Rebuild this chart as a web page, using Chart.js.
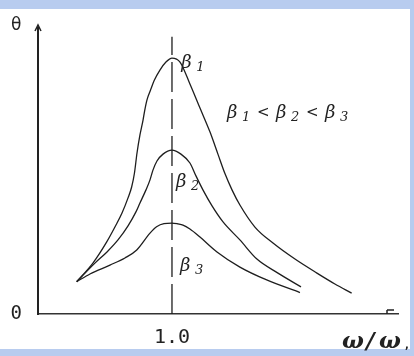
<!DOCTYPE html>
<html>
<head>
<meta charset="utf-8">
<script src="https://cdn.jsdelivr.net/npm/chart.js@4/dist/chart.umd.min.js"></script>
<style>
  html, body { margin: 0; padding: 0; background: #fff; }
  #wrap { width: 414px; height: 356px; }
</style>
</head>
<body>
<div id="wrap"><canvas id="c" width="414" height="356"></canvas></div>
<script>
// frequency ratio (x) and amplitude (y)
const beta1X = [0.289, 0.410, 0.513, 0.582, 0.627, 0.672, 0.699, 0.720, 0.739, 0.761, 0.784, 0.797, 0.813, 0.840, 0.869, 0.910, 0.955, 1.0, 1.060, 1.134, 1.209, 1.284, 1.343, 1.396, 1.448, 1.507, 1.619, 1.754, 1.918, 2.082, 2.216, 2.341]
const beta1Y = [11.3, 17.8, 25.2, 31.1, 35.3, 40.6, 44.4, 49.3, 56.3, 62.6, 67.8, 71.3, 74.8, 78.3, 81.8, 85.3, 88.1, 89.5, 88.1, 80.4, 72.0, 63.6, 55.9, 49.0, 43.4, 38.1, 30.4, 24.8, 19.2, 14.3, 10.5, 7.3]

const beta2X = [0.289, 0.425, 0.515, 0.597, 0.672, 0.731, 0.761, 0.806, 0.836, 0.858, 0.888, 0.933, 1.0, 1.067, 1.134, 1.179, 1.231, 1.299, 1.381, 1.507, 1.634, 1.791, 1.963]
const beta2Y = [11.3, 17.8, 21.7, 25.9, 30.8, 35.7, 38.8, 43.4, 46.9, 50.3, 53.5, 55.9, 57.3, 55.9, 52.8, 48.3, 43.4, 37.8, 32.2, 25.9, 19.2, 14.3, 9.5]

const beta3X = [0.289, 0.388, 0.537, 0.649, 0.737, 0.836, 0.888, 0.940, 1.0, 1.045, 1.082, 1.134, 1.209, 1.336, 1.507, 1.707, 1.955]
const beta3Y = [11.3, 14.0, 17.1, 19.6, 22.4, 28.3, 30.6, 31.6, 31.8, 31.5, 31.1, 29.7, 26.9, 21.7, 16.4, 11.9, 7.5]

const resonanceX = [1.0, 1.0]
const resonanceY = [0, 96.9]

const xTicks = [1.0]
const yTicks = [0]

const toPoints = (xs, ys) => xs.map((x, i) => ({ x: x, y: ys[i] }))

// light blue frame round the white sheet, plus the hand-set annotations
const sheetPlugin = {
  id: "sheet",
  beforeDraw(chart) {
    const ctx = chart.ctx
    ctx.save()
    ctx.fillStyle = "#b8ccef"
    ctx.fillRect(0, 0, chart.width, chart.height)
    ctx.fillStyle = "#ffffff"
    ctx.fillRect(0, 9, 410, 340)
    ctx.restore()
  },
  afterDraw(chart) {
    const ctx = chart.ctx
    const xs = chart.scales.x
    const ys = chart.scales.y
    const area = chart.chartArea
    ctx.save()
    ctx.fillStyle = "#222"
    ctx.strokeStyle = "#222"

    // arrow at top of y axis
    ctx.lineWidth = 1.5
    ctx.beginPath()
    ctx.moveTo(area.left - 3, area.top + 3)
    ctx.lineTo(area.left, area.top - 3)
    ctx.lineTo(area.left + 3, area.top + 3)
    ctx.stroke()

    // small end mark on x axis
    ctx.beginPath()
    ctx.moveTo(area.right - 11, area.bottom - 4)
    ctx.lineTo(area.right - 11, area.bottom)
    ctx.moveTo(area.right - 11, area.bottom - 4)
    ctx.lineTo(area.right - 4, area.bottom - 4)
    ctx.stroke()

    // axis names
    ctx.textBaseline = "alphabetic"
    ctx.textAlign = "left"
    ctx.font = "17px 'DejaVu Sans'"
    ctx.fillText("θ", 11, 30)
    ctx.font = "bold italic 23px 'DejaVu Serif'"
    ctx.fillText("ω", 342, 348)
    ctx.fillText("/", 366, 348)
    ctx.fillText("ω", 379, 348)
    ctx.font = "bold 10px 'DejaVu Sans'"
    ctx.fillText(",", 405, 348)

    // curve labels
    const beta = (px, py, sub) => {
      ctx.font = "italic 18px 'DejaVu Serif'"
      ctx.fillText("β", px, py)
      ctx.font = "italic 13px 'DejaVu Serif'"
      ctx.fillText(sub, px + 15, py + 3)
    }
    beta(xs.getPixelForValue(1.07), ys.getPixelForValue(86), "1")
    beta(xs.getPixelForValue(1.03), ys.getPixelForValue(44.5), "2")
    beta(xs.getPixelForValue(1.06), ys.getPixelForValue(15), "3")

    const relY = ys.getPixelForValue(68.5)
    const relX = xs.getPixelForValue(1.41)
    beta(relX, relY, "1")
    ctx.font = "15px 'DejaVu Sans'"
    ctx.fillText("<", relX + 30, relY - 1)
    beta(relX + 49, relY, "2")
    ctx.font = "15px 'DejaVu Sans'"
    ctx.fillText("<", relX + 79, relY - 1)
    beta(relX + 98, relY, "3")
    ctx.restore()
  },
}

const curveStyle = {
  borderColor: "#1e1e1e",
  borderWidth: 1.3,
  pointRadius: 0,
  cubicInterpolationMode: "monotone",
  fill: false,
}

new Chart(document.getElementById("c"), {
  type: "line",
  data: {
    datasets: [
      { label: "β1", data: toPoints(beta1X, beta1Y), ...curveStyle },
      { label: "β2", data: toPoints(beta2X, beta2Y), ...curveStyle },
      { label: "β3", data: toPoints(beta3X, beta3Y), ...curveStyle },
      {
        label: "ω = ωn",
        data: toPoints(resonanceX, resonanceY),
        borderColor: "#1e1e1e",
        borderWidth: 1.3,
        borderDash: [30, 7],
        pointRadius: 0,
      },
    ],
  },
  options: {
    responsive: false,
    animation: false,
    layout: { padding: { top: 28, right: 16, left: 0, bottom: 0 } },
    plugins: {
      legend: { display: false },
      tooltip: { enabled: false },
    },
    scales: {
      x: {
        type: "linear",
        min: 0,
        max: 2.687,
        grid: { display: false, drawTicks: false },
        border: { display: true, color: "#333", width: 1.5 },
        afterBuildTicks: (s) => { s.ticks = xTicks.map((v) => ({ value: v })) },
        afterFit: (s) => { s.height = 42 },
        ticks: {
          color: "#222",
          padding: 12,
          font: { family: "'DejaVu Sans Mono'", size: 20 },
          callback: (v) => Number(v).toFixed(1),
        },
      },
      y: {
        min: 0,
        max: 100,
        grid: { display: false, drawTicks: false },
        border: { display: true, color: "#222", width: 2 },
        afterBuildTicks: (s) => { s.ticks = yTicks.map((v) => ({ value: v })) },
        afterFit: (s) => { s.width = 38 },
        ticks: {
          color: "#222",
          padding: 16,
          font: { family: "'DejaVu Sans Mono'", size: 19 },
          callback: (v) => String(v),
        },
      },
    },
  },
  plugins: [sheetPlugin],
})
</script>
</body>
</html>
